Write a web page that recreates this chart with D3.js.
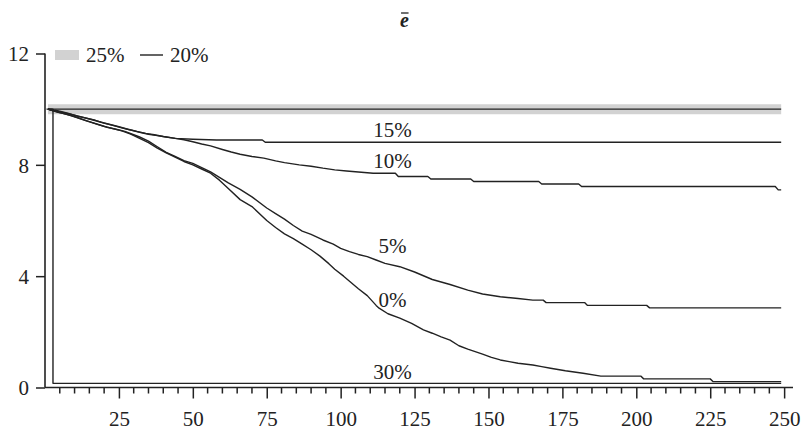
<!DOCTYPE html>
<html>
<head>
<meta charset="utf-8">
<script src="https://cdn.jsdelivr.net/npm/d3@7"></script>
<style>
  html, body { margin: 0; padding: 0; background: #fff; }
  svg { display: block; }
  text { font-family: "Liberation Serif", "DejaVu Serif", serif; fill: #222; }
</style>
</head>
<body>
<svg id="chart" width="807" height="430"></svg>
<script>
// ---------- data ----------
const xTicksMajor = [25, 50, 75, 100, 125, 150, 175, 200, 225, 250];
const xTicksMinor = d3.range(5, 251, 5);
const yTicks = [0, 4, 8, 12];

// [period, value]
const s25 = [[1, 10], [249, 10]];
const s20 = [[0.5, 10], [249, 10]];
const s30 = [[1, 10], [2.7, 10], [2.7, 0.15], [249, 0.15]];
const s15 = [[1, 10], [2, 10], [3, 9.97], [5, 9.93], [8, 9.85], [11, 9.75], [14, 9.68], [17, 9.6], [20, 9.5],
  [23, 9.42], [26, 9.33], [29, 9.25], [32, 9.17], [35, 9.1], [38, 9.05], [41, 9.0], [44, 8.95], [50, 8.92],
  [58, 8.89], [73.5, 8.89], [74.5, 8.81], [249, 8.81]];
const s10 = [[1, 10], [2, 9.97], [4, 9.93], [7, 9.86], [10, 9.78], [13, 9.7], [16, 9.62], [19, 9.53], [22, 9.45],
  [25, 9.37], [28, 9.28], [31, 9.2], [34, 9.13], [37, 9.08], [40, 9.02], [43, 8.97], [47, 8.9], [50, 8.83],
  [53, 8.75], [56, 8.68], [60, 8.55], [63, 8.46], [66, 8.38], [70, 8.3], [74, 8.24], [78, 8.14], [81, 8.08],
  [86, 8.0], [90, 7.95], [94, 7.88], [98, 7.82], [102, 7.78], [111, 7.7], [118.5, 7.7], [119.5, 7.58],
  [129.5, 7.58], [130.5, 7.49], [144, 7.49], [145, 7.4], [167, 7.4], [168, 7.31], [180.5, 7.31], [181.5, 7.22],
  [247, 7.22], [248, 7.1], [249, 7.1]];
const s05 = [[1, 10], [2, 9.97], [4, 9.9], [6, 9.85], [9, 9.76], [12, 9.65], [15, 9.55], [18, 9.45], [21, 9.35],
  [24, 9.28], [27, 9.2], [30, 9.08], [32, 9.0], [35, 8.85], [38, 8.65], [41, 8.45], [44, 8.3], [47, 8.15],
  [50, 8.05], [53, 7.9], [56, 7.75], [59, 7.55], [62, 7.35], [66, 7.12], [70, 6.85], [75, 6.45], [78, 6.25],
  [81, 6.05], [84, 5.82], [87, 5.62], [90, 5.5], [94, 5.3], [97.5, 5.15], [100, 5.0], [103, 4.88], [106, 4.78],
  [109, 4.7], [112, 4.58], [115, 4.46], [120, 4.34], [125, 4.15], [131, 3.88], [137, 3.7], [143, 3.5],
  [148, 3.36], [154, 3.26], [160, 3.2], [165, 3.14], [168.5, 3.14], [169.5, 3.05], [182.5, 3.05], [183.5, 2.95],
  [203.5, 2.95], [204.5, 2.86], [249, 2.86]];
const s00 = [[1, 10], [2, 9.97], [3, 9.93], [5, 9.88], [8, 9.8], [11, 9.7], [14, 9.58], [17, 9.48], [20, 9.38],
  [23, 9.3], [26, 9.22], [29, 9.1], [32, 8.95], [35, 8.8], [38, 8.6], [41, 8.43], [44, 8.28], [47, 8.12],
  [50, 8.0], [53, 7.85], [56, 7.7], [59, 7.45], [62, 7.15], [66, 6.75], [70, 6.5], [75, 6.0], [78, 5.75],
  [81, 5.52], [84, 5.35], [87, 5.15], [90, 4.95], [93, 4.72], [96, 4.45], [98, 4.25], [101, 4.0], [103, 3.82],
  [106, 3.55], [109, 3.3], [112, 2.95], [113, 2.85], [116, 2.65], [120, 2.49], [124, 2.3], [128, 2.07],
  [131, 1.95], [134, 1.82], [137, 1.7], [140, 1.5], [143, 1.38], [148, 1.2], [151, 1.08], [154, 0.99],
  [157, 0.93], [160, 0.87], [165, 0.81], [168, 0.75], [171, 0.69], [176, 0.6], [182, 0.51], [188, 0.41],
  [201.5, 0.41], [202.5, 0.31], [225, 0.31], [226, 0.21], [249, 0.21]];

const seriesLabels = ["15%", "10%", "5%", "0%", "30%"];
const labelX = [117.5, 117.5, 117.5, 117.5, 117.5];
const labelY = [9.0, 7.88, 4.83, 2.89, 0.31];
const legendLabels = ["25%", "20%"];
const titleText = "e";

// ---------- layout ----------
const svg = d3.select("#chart");
const ink = "#222";
const x = d3.scaleLinear().domain([0, 253]).range([45, 793]);
const y = d3.scaleLinear().domain([0, 12]).range([387.5, 53.5]);

// Title with overbar
const title = svg.append("text")
  .attr("x", 404.5).attr("y", 27)
  .attr("text-anchor", "middle")
  .style("font-size", "20px").style("font-weight", "bold").style("font-style", "italic")
  .text(titleText);
const tb = title.node().getBBox();
svg.append("line")
  .attr("x1", tb.x + 1).attr("x2", tb.x + tb.width - 0.5)
  .attr("y1", 13).attr("y2", 13)
  .attr("stroke", ink).attr("stroke-width", 1.3);

// Lines
const line = d3.line().x(d => x(d[0])).y(d => y(d[1])).curve(d3.curveLinear);
const g = svg.append("g");
g.append("path").datum(s25).attr("d", line)
  .attr("fill", "none").attr("stroke", "#d2d2d2").attr("stroke-width", 10);
[s20, s15, s10, s05, s00, s30].forEach(s => {
  g.append("path").datum(s).attr("d", line)
    .attr("fill", "none").attr("stroke", ink).attr("stroke-width", 1.4)
    .attr("stroke-linejoin", "round");
});

// Axes
const yAxis = d3.axisLeft(y).tickValues(yTicks).tickSize(9).tickPadding(7).tickFormat(d3.format("d"));
const ya = svg.append("g").attr("transform", `translate(${x(0)},0)`).call(yAxis);
ya.select(".domain").attr("d", `M0,${y(12)}V${y(0)}`);

const xa = svg.append("g").attr("transform", `translate(0,${y(0)})`)
  .call(d3.axisBottom(x).tickValues(xTicksMajor).tickSize(11).tickPadding(13).tickFormat(d3.format("d")));
xa.select(".domain").attr("d", `M${x(0)},0H${x(253)}`);
xa.selectAll(".minor").data(xTicksMinor.filter(v => !xTicksMajor.includes(v))).enter()
  .append("line").attr("class", "minor")
  .attr("x1", d => x(d)).attr("x2", d => x(d)).attr("y1", 0).attr("y2", 6)
  .attr("stroke", ink).attr("stroke-width", 1.5);

[ya, xa].forEach(a => {
  a.selectAll(".domain").attr("stroke", ink).attr("stroke-width", 1.6);
  a.selectAll(".tick line").attr("stroke", ink).attr("stroke-width", 1.5);
  a.selectAll(".tick text").style("font-size", "21px").style("font-family", '"Liberation Serif", serif').attr("fill", ink);
});
ya.selectAll(".tick text").attr("dy", "0.35em");

// Series labels
seriesLabels.forEach((t, i) => {
  svg.append("text")
    .attr("x", x(labelX[i])).attr("y", y(labelY[i]))
    .attr("text-anchor", "middle")
    .style("font-size", "21px")
    .text(t);
});

// Legend
svg.append("rect").attr("x", 55).attr("y", 50).attr("width", 24).attr("height", 10).attr("fill", "#d2d2d2");
svg.append("text").attr("x", 86).attr("y", 61.5).style("font-size", "21px").text(legendLabels[0]);
svg.append("line").attr("x1", 140).attr("x2", 163).attr("y1", 55).attr("y2", 55)
  .attr("stroke", ink).attr("stroke-width", 1.4);
svg.append("text").attr("x", 170).attr("y", 61.5).style("font-size", "21px").text(legendLabels[1]);
</script>
</body>
</html>
